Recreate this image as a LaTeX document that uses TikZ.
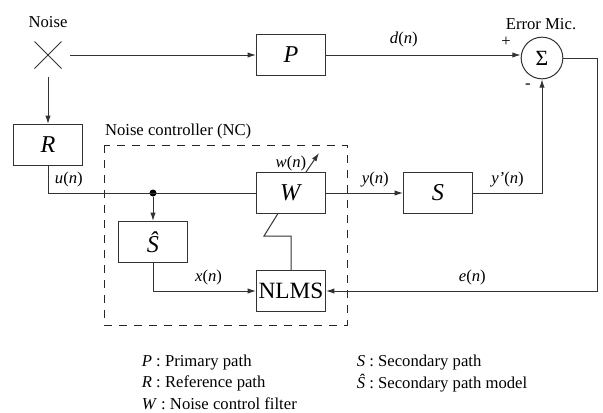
\documentclass[tikz,border=0pt]{standalone}
\usepackage{fontspec}
\setmainfont{Liberation Serif}
\usetikzlibrary{arrows.meta,shapes.misc}
\newcommand{\sig}[1]{\textit{#1}(\textit{n})}
\newcommand{\shat}{\textit{Ŝ}}

\begin{document}
\begin{tikzpicture}[
    x=0.6pt, y=-0.6pt,
    font=\fontsize{10}{12}\selectfont,
    block/.style={draw=black!80, line width=0.6pt, minimum width=41.4pt, minimum height=24.6pt, inner sep=0pt, font=\fontsize{14.5}{17}\selectfont},
    sig/.style={draw=black!80, line width=0.6pt},
    arr/.style={sig, -{Latex[length=5pt, width=3.2pt]}},
    dot/.style={circle, fill=black, inner sep=0pt, minimum size=4.2pt},
    nc/.style={draw=black!85, dash pattern=on 5pt off 4pt, line width=0.6pt},
]
    \useasboundingbox (0,0) rectangle (603,412);
    % noise source and primary path
    \node[cross out, draw=black!80, line width=0.6pt, minimum size=15.6pt, inner sep=0pt] (noise) at (48,55) {};
    \node (noiselbl) at (48,22) {Noise};
    \node[block] (P) at (291,55) {\textit{P}};
    \node[circle, draw=black!80, line width=0.6pt, minimum size=25pt, inner sep=0pt, font=\fontsize{13}{15}\selectfont] (sum) at (542,58) {Σ};
    \node (miclbl) at (541,24) {Error Mic.};
    \node (plus) at (506,42) {+};
    \node (minus) at (528,86) {-};
    \draw[arr, shorten <=5pt] (noise) -- (P);
    \draw[arr] (P.east) -- (P.east -| sum.west) node[pos=0.4, above=1pt] {\sig{d}};
    % reference path
    \node[block] (R) at (48,145) {\textit{R}};
    \draw[arr, shorten <=5pt] (noise) -- (R);
    % noise controller
    \draw[nc] (104,145) rectangle (347,325);
    \node[anchor=south west, inner sep=1pt] (nclbl) at (103,141) {Noise controller (NC)};
    \node[block] (W) at (291,193) {\textit{W}};
    \node[block] (Shat) at (153,242) {\shat};
    \node[block, font=\fontsize{14}{16}\selectfont] (nlms) at (291,291) {NLMS};
    \node[dot] (split) at (153,193) {};
    \draw[sig] (R) |- (W) node[pos=0.55, above] {\sig{u}};
    \draw[arr] (split) -- (Shat);
    \draw[arr] (Shat) |- (nlms) node[pos=0.77, above] {\sig{x}};
    \draw[arr] ([xshift=-12pt]W.north east) -- ++(13,-19);
    \node (wlbl) at (291,163) {\sig{w}};
    \coordinate (kink) at (264,236);
    \draw[sig] ([xshift=-8pt]W.south) -- (kink) -| (nlms.north);
    % secondary path and error
    \node[block] (S) at (438,193) {\textit{S}};
    \draw[arr] (W) -- (S) node[pos=0.64, above] {\sig{y}};
    \draw[arr] (S.east) -| (sum.south) node[pos=0.25, above] {\sig{y'}};
    \coordinate (eright) at (597,291);
    \draw[arr] (sum.east) -| (eright) -- (nlms.east) node[pos=0.46, above] {\sig{e}};
    % legend
    \node[anchor=west] (legP) at (136,363) {\textit{P} : Primary path};
    \node[anchor=west] (legR) at (136,383) {\textit{R} : Reference path};
    \node[anchor=west] (legW) at (136,404) {\textit{W} : Noise control filter};
    \node[anchor=west] (legS) at (351,363) {\textit{S} : Secondary path};
    \node[anchor=west] (legShat) at (351,383) {\shat{} : Secondary path model};
\end{tikzpicture}
\end{document}
